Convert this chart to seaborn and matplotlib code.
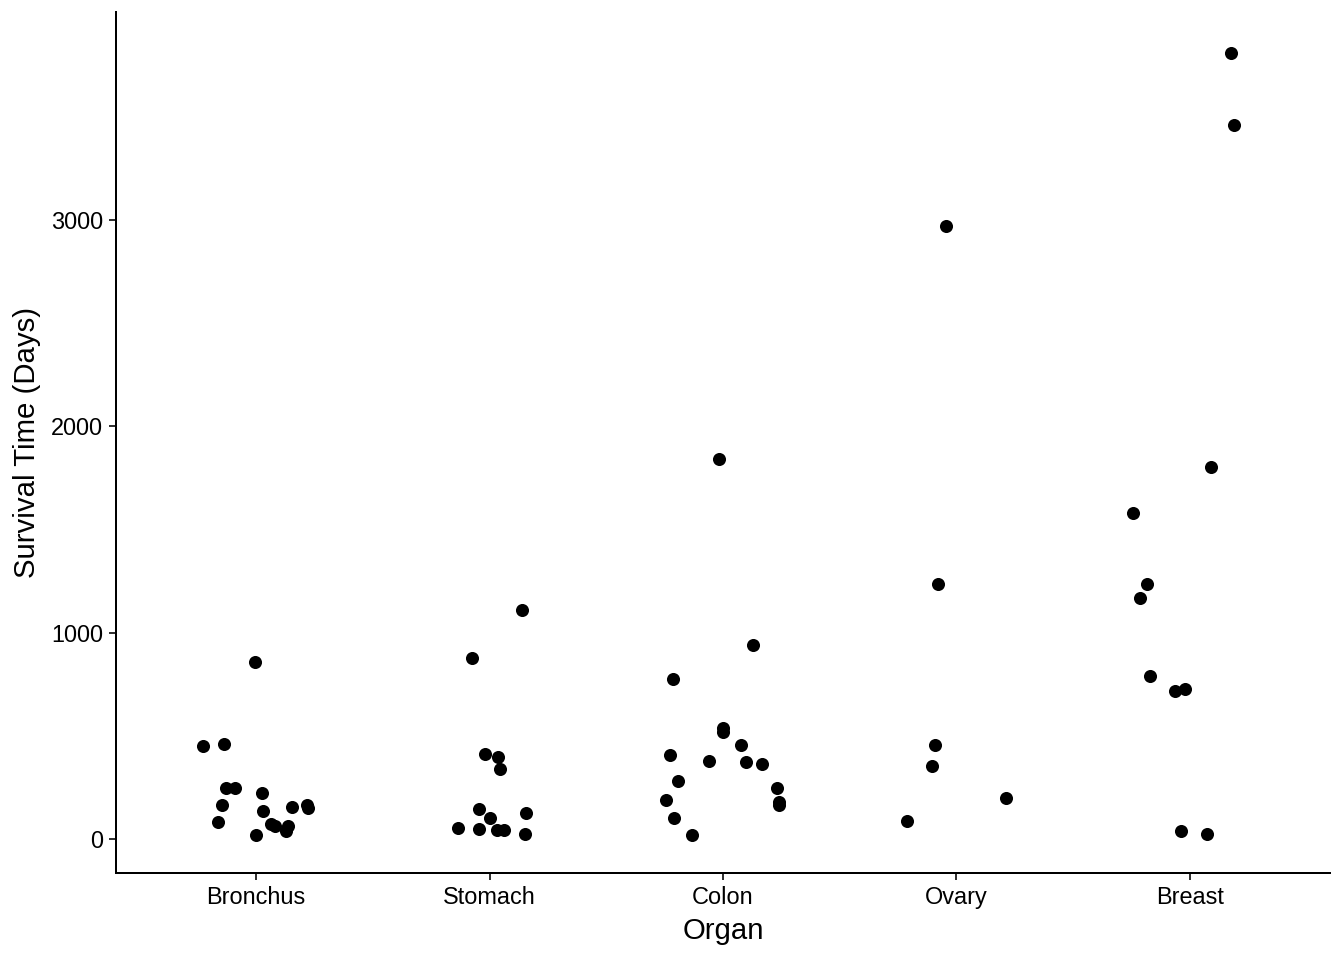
import matplotlib
matplotlib.use("Agg")
from matplotlib import pyplot as plt
import numpy as np
import pandas as pd
import seaborn as sns

# Survival times (days) per organ, with horizontal jitter.
organs = ["Bronchus", "Stomach", "Colon", "Ovary", "Breast"]

bronchus_days = [859, 450, 461, 246, 245, 166, 81, 223, 138, 20, 72, 64, 63, 37, 155, 151, 166]
bronchus_jitter = [-0.004, -0.227, -0.137, -0.129, -0.090, -0.146, -0.163, 0.026, 0.030, 0.0,
                   0.064, 0.081, 0.137, 0.129, 0.154, 0.223, 0.219]

stomach_days = [1112, 876, 412, 396, 340, 146, 103, 124, 51, 46, 45, 42, 25]
stomach_jitter = [0.140, -0.074, -0.018, 0.037, 0.046, -0.044, 0.0, 0.157, -0.134, -0.044,
                  0.033, 0.063, 0.153]

colon_days = [1843, 942, 776, 537, 519, 455, 406, 377, 372, 365, 283, 248, 189, 180, 163, 101, 20]
colon_jitter = [-0.016, 0.130, -0.213, 0.0, 0.0, 0.078, -0.226, -0.059, 0.100, 0.168, -0.192,
                0.233, -0.243, 0.241, 0.241, -0.209, -0.132]

ovary_days = [2970, 1234, 456, 356, 201, 89]
ovary_jitter = [-0.043, -0.077, -0.090, -0.103, 0.214, -0.210]

breast_days = [3808, 3460, 1804, 1581, 1235, 1166, 791, 727, 719, 40, 24]
breast_jitter = [0.174, 0.187, 0.089, -0.242, -0.186, -0.216, -0.169, -0.023, -0.066, -0.040, 0.072]

groups = {
    "Bronchus": (bronchus_days, bronchus_jitter),
    "Stomach": (stomach_days, stomach_jitter),
    "Colon": (colon_days, colon_jitter),
    "Ovary": (ovary_days, ovary_jitter),
    "Breast": (breast_days, breast_jitter),
}

rows = []
for organ, (days, jit) in groups.items():
    for d, j in zip(days, jit):
        rows.append({"Organ": organ, "Survival": d, "jitter": j})
df = pd.DataFrame(rows)
df["Organ"] = pd.Categorical(df["Organ"], categories=organs)
df["xpos"] = df["Organ"].cat.codes + df["jitter"]

sns.set_theme(style="ticks")
plt.rcParams["font.family"] = ["Liberation Sans", "DejaVu Sans"]

fig = plt.figure(figsize=(7, 5), dpi=192)
ax = fig.add_axes([0.0863, 0.0906, 0.9896 - 0.0863, 0.9875 - 0.0906])

sns.scatterplot(data=df, x="xpos", y="Survival", color="black", s=24, linewidth=0, ax=ax)

ax.set_xlim(-0.6, 4.6)
ax.set_ylim(-165, 4008)
ax.set_xticks(range(len(organs)))
ax.set_xticklabels(organs)
ax.set_yticks([0, 1000, 2000, 3000])

ax.set_xlabel("Organ", fontsize=11, color="black", labelpad=3)
ax.set_ylabel("Survival Time (Days)", fontsize=11, color="black", labelpad=4)
ax.tick_params(axis="both", labelsize=8.8, colors="black", length=2.75, width=0.6, pad=2)

for side in ["top", "right"]:
    ax.spines[side].set_visible(False)
for side in ["left", "bottom"]:
    ax.spines[side].set_linewidth(0.75)
    ax.spines[side].set_color("black")

fig.savefig("out.png", dpi=192)
